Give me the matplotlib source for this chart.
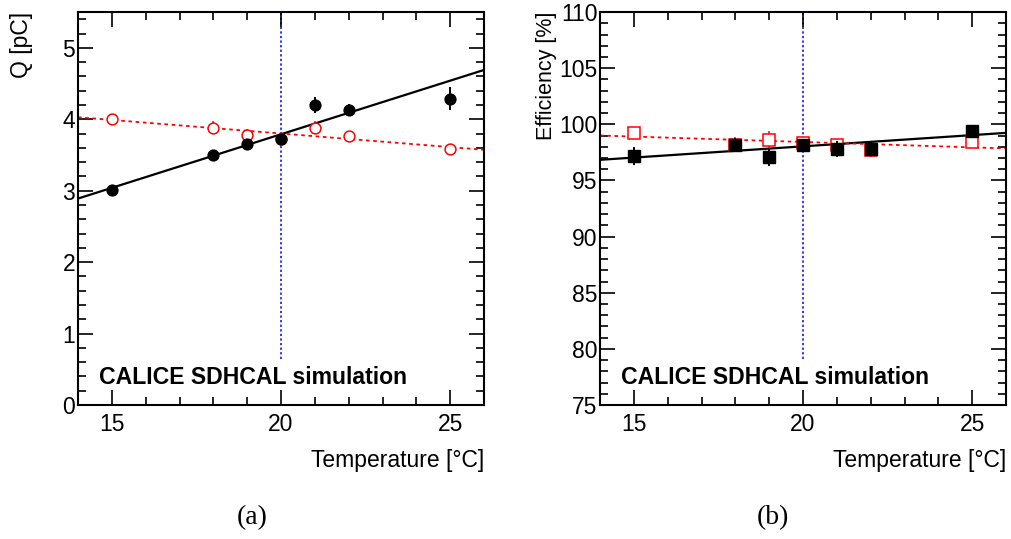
import matplotlib.pyplot as plt
import numpy as np
from matplotlib.ticker import MultipleLocator

plt.rcParams['font.family'] = ['Liberation Sans', 'DejaVu Sans']

# Temperature scan points
temp = np.array([15, 18, 19, 20, 21, 22, 25])

# Charge (a)
q_black = np.array([3.01, 3.50, 3.65, 3.73, 4.20, 4.13, 4.29])
q_black_err = np.array([0.04, 0.05, 0.08, 0.04, 0.11, 0.09, 0.16])
q_red = np.array([4.01, 3.88, 3.78, 3.73, 3.88, 3.76, 3.59])
q_red_err = np.array([0.07, 0.09, 0.09, 0.05, 0.09, 0.07, 0.06])

# Efficiency (b)
eff_black = np.array([97.2, 98.2, 97.1, 98.2, 97.8, 97.8, 99.4])
eff_black_err = np.array([0.8, 0.6, 0.8, 0.5, 0.7, 0.6, 0.4])
eff_red = np.array([99.25, 98.2, 98.6, 98.3, 98.2, 97.7, 98.45])
eff_red_err = np.array([0.3, 0.7, 0.8, 0.5, 0.5, 0.6, 0.5])

# Linear fits: value at 20 degC and slope per degC
q_fit_black = (3.79, 0.150)
q_fit_red = (3.80, -0.038)
eff_fit_black = (98.04, 0.20)
eff_fit_red = (98.43, -0.096)

T_REF = 20
x_range = (14, 26)
FS = 16.5


def style_axes(ax, ylim, ymajor, yminor):
    ax.set_xlim(*x_range)
    ax.set_ylim(*ylim)
    ax.xaxis.set_major_locator(MultipleLocator(5))
    ax.xaxis.set_minor_locator(MultipleLocator(1))
    ax.yaxis.set_major_locator(MultipleLocator(ymajor))
    ax.yaxis.set_minor_locator(MultipleLocator(yminor))
    ax.tick_params(which='both', direction='in', top=True, right=True,
                   labelsize=FS, width=1.2)
    ax.tick_params(which='major', length=11)
    ax.tick_params(which='minor', length=6)
    ax.tick_params(axis='y', pad=2)
    ax.tick_params(axis='x', pad=6)
    for sp in ax.spines.values():
        sp.set_linewidth(1.5)


def draw_panel(ax, x, yb, eb, yr, er, fit_b, fit_r, marker, ms, ylim, vline_bottom):
    xs = np.array(x_range, dtype=float)
    ax.plot(xs, fit_b[0] + fit_b[1] * (xs - T_REF), color='black', lw=1.6, zorder=2)
    ax.plot(xs, fit_r[0] + fit_r[1] * (xs - T_REF), color='red', lw=1.3,
            linestyle=(0, (2, 2)), zorder=2)
    ax.plot([T_REF, T_REF], [vline_bottom, ylim[1]], color='blue', lw=1.1,
            linestyle=(0, (1.5, 1.5)), zorder=1)
    ax.errorbar(x, yr, yerr=er, fmt=marker, ms=ms, mfc='white', mec='red',
                mew=1.1, ecolor='red', elinewidth=1.1, capsize=0, zorder=3)
    ax.errorbar(x, yb, yerr=eb, fmt=marker, ms=ms, color='black',
                ecolor='black', elinewidth=1.4, capsize=0, zorder=4)
    ax.text(0.052, 0.069, 'CALICE SDHCAL simulation', transform=ax.transAxes,
            fontsize=16.6, fontweight='bold', va='center', ha='left')
    ax.set_xlabel('Temperature [°C]', fontsize=FS, loc='right')
    ax.xaxis.set_label_coords(1.0, -0.112)


fig = plt.figure(figsize=(10.11, 5.39), dpi=100)
ax1 = fig.add_axes([0.0772, 0.2486, 0.4016, 0.729])
ax2 = fig.add_axes([0.5935, 0.2486, 0.4016, 0.729])

draw_panel(ax1, temp, q_black, q_black_err, q_red, q_red_err,
           q_fit_black, q_fit_red, 'o', 7.8, (0, 5.5), 0.65)
style_axes(ax1, (0, 5.5), 1, 0.2)
ax1.set_ylabel('Q [pC]', fontsize=FS, loc='top')
ax1.yaxis.set_label_coords(-0.11, 1.0)

draw_panel(ax2, temp, eff_black, eff_black_err, eff_red, eff_red_err,
           eff_fit_black, eff_fit_red, 's', 8.5, (75, 110), 79.1)
style_axes(ax2, (75, 110), 5, 1)
ax2.set_ylabel('Efficiency [%]', fontsize=15.5, loc='top')
ax2.yaxis.set_label_coords(-0.106, 1.0)

fig.text(0.249, 0.04, '(a)', family='Liberation Serif', fontsize=20, ha='center', va='center')
fig.text(0.765, 0.04, '(b)', family='Liberation Serif', fontsize=20, ha='center', va='center')

fig.savefig('out.png', dpi=100)
